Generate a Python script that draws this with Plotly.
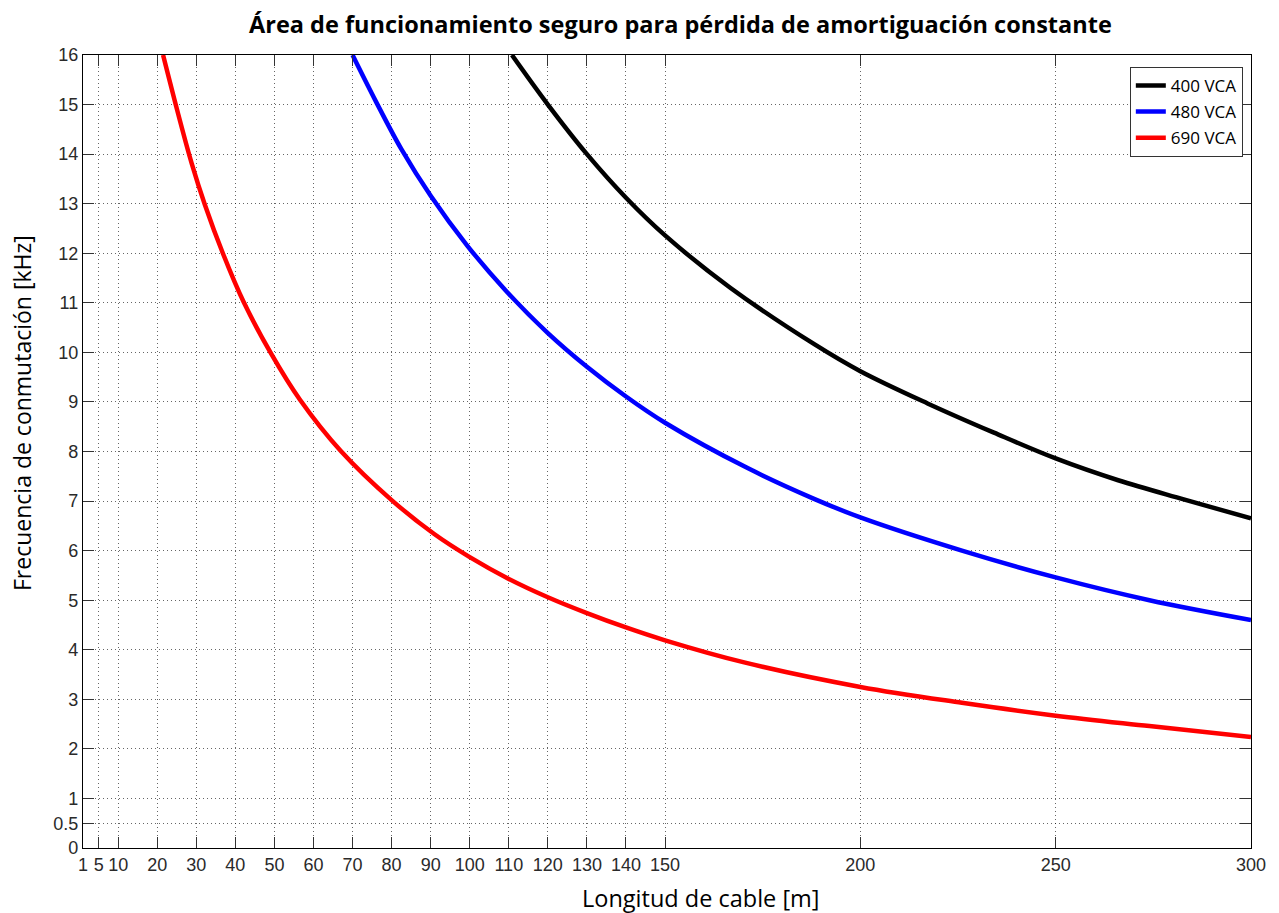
import plotly.graph_objects as go

# ---- data ----
len_400 = [110.8, 120, 130, 140, 150, 166.6, 188.3, 200, 217.2, 234.2, 250, 266, 283, 300]
freq_400 = [16, 15, 14.0, 13.12, 12.36, 11.31, 10.16, 9.62, 8.97, 8.38, 7.86, 7.42, 7.03, 6.65]

len_480 = [70, 76, 82.5, 90, 99.4, 109.2, 120, 130, 140, 150, 171, 188, 200, 226, 250, 274, 300]
freq_480 = [16, 15.06, 14.1, 13.16, 12.15, 11.25, 10.39, 9.71, 9.11, 8.58, 7.67, 7.05, 6.67, 6.0, 5.46, 5.0, 4.60]

len_690 = [21.5, 25.4, 28.8, 32.2, 36.9, 42.1, 49.2, 56.5, 67, 80, 91, 100, 110, 120, 130, 140, 150, 170, 200, 226, 250, 274, 300]
freq_690 = [16, 14.8, 13.82, 12.98, 11.98, 11.02, 9.97, 9.05, 8.01, 7.02, 6.33, 5.87, 5.43, 5.06, 4.74, 4.45, 4.19, 3.75, 3.25, 2.93, 2.67, 2.46, 2.24]

series_names = ["400 VCA", "480 VCA", "690 VCA"]
series_colors = ["#000000", "#0000ff", "#ff0000"]

x_ticks = [1, 5, 10, 20, 30, 40, 50, 60, 70, 80, 90, 100, 110, 120, 130, 140, 150, 200, 250, 300]
y_ticks = [0, 0.5, 1, 2, 3, 4, 5, 6, 7, 8, 9, 10, 11, 12, 13, 14, 15, 16]

title_text = "Área de funcionamiento seguro para pérdida de amortiguación constante"
x_title = "Longitud de cable [m]"
y_title = "Frecuencia de conmutación [kHz]"

TEXT_FONT = "Open Sans, Noto Sans, sans-serif"
TICK_FONT = "Liberation Sans, Arial, sans-serif"

fig = go.Figure()
for i, (xs, ys, name, col) in enumerate(zip([len_400, len_480, len_690], [freq_400, freq_480, freq_690],
                                            series_names, series_colors)):
    fig.add_trace(go.Scatter(x=xs, y=ys, mode="lines", name=name, legendgroup="g%d" % i,
                             line=dict(color=col, width=4.5, shape="spline", smoothing=1.0)))

axis_common = dict(
    showline=True, linecolor="#000000", linewidth=1.2, mirror="ticks",
    ticks="inside", ticklen=11, tickwidth=1, tickcolor="#333333",
    showgrid=True, gridcolor="rgba(0,0,0,0.6)", griddash="1px,3px", gridwidth=1,
    zeroline=False,
    tickfont=dict(family=TICK_FONT, size=18, color="#2a2a2a"),
)

fig.update_xaxes(range=[1, 300], tickmode="array", tickvals=x_ticks,
                 ticktext=[str(v) for v in x_ticks], **axis_common)
fig.update_yaxes(range=[0, 16], tickmode="array", tickvals=y_ticks,
                 ticktext=[str(v) for v in y_ticks], **axis_common)

# axis titles (placed as in the reference, off-centre)
fig.add_annotation(text=x_title, xref="paper", yref="paper",
                   x=(701 - 83) / 1168, y=(848 - 898) / 793, xanchor="center", yanchor="middle",
                   showarrow=False, font=dict(family=TEXT_FONT, size=23.5, color="#000"))
fig.add_annotation(text=y_title, xref="paper", yref="paper",
                   x=(22 - 83) / 1168, y=(848 - 413) / 793, xanchor="center", yanchor="middle",
                   textangle=-90, showarrow=False,
                   font=dict(family=TEXT_FONT, size=23, color="#000"))

fig.update_layout(
    width=1279, height=913,
    margin=dict(l=83, r=28, t=55, b=65),
    paper_bgcolor="white", plot_bgcolor="white",
    title=dict(text="<b>" + title_text + "</b>", x=0.532, xanchor="center",
               y=1 - 25 / 913, yanchor="middle", yref="container",
               font=dict(family=TEXT_FONT, size=23.5, color="#000")),
    legend=dict(x=0.993, xanchor="right", y=0.985, yanchor="top",
                bgcolor="white", bordercolor="#333333", borderwidth=1,
                font=dict(family=TEXT_FONT, size=17, color="#000"),
                tracegroupgap=1, itemwidth=30),
    showlegend=True,
)

fig.write_html("out.html")
